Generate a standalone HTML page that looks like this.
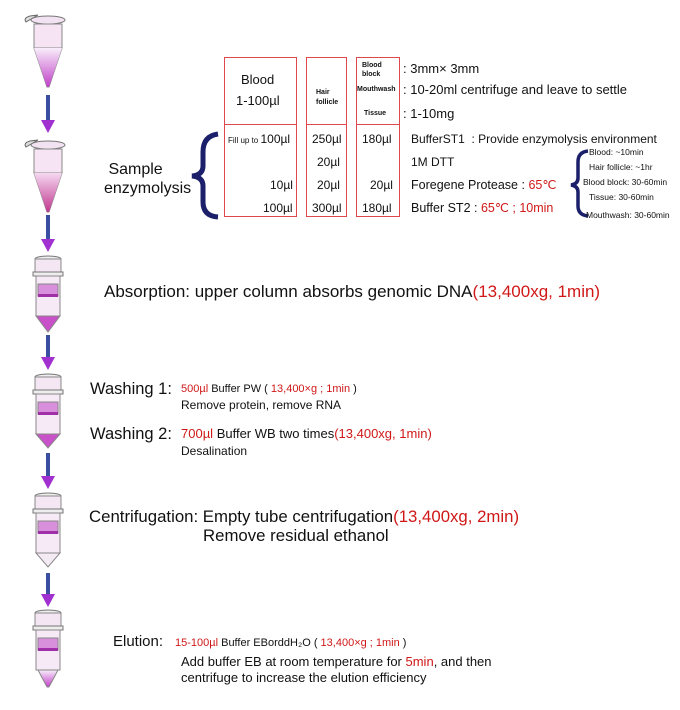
<!DOCTYPE html>
<html><head><meta charset="utf-8"><style>
body{margin:0;width:680px;height:710px;background:#fff;position:relative;font-family:"Liberation Sans",Arial,sans-serif;color:#111;overflow:hidden}
.t{position:absolute;white-space:nowrap}
.r{color:#d01818}
.box{position:absolute;border:1.5px solid #e0474c;box-sizing:border-box}
svg{position:absolute;left:0;top:0}
</style></head><body>
<svg width="680" height="710">
<defs>
<linearGradient id="g1" x1="0" y1="0" x2="0" y2="1"><stop offset="0" stop-color="#f8eefa"/><stop offset="1" stop-color="#c040c8"/></linearGradient>
<linearGradient id="g2" x1="0" y1="0" x2="0" y2="1"><stop offset="0" stop-color="#f5d8f0"/><stop offset="1" stop-color="#c03890"/></linearGradient>
<g id="tube">
<path d="M-22,-35 q-3,-4 4,-6 l8,-1 z" fill="#ddd" stroke="#666"/>
<ellipse cx="0" cy="-37" rx="17" ry="4" fill="#f3e2f2" stroke="#777"/>
<rect x="-14" y="-33" width="28" height="24" fill="#f6e4f4" stroke="#888"/>
<path d="M-14,-9 L14,-9 L1,30 L-1,30 Z" fill="#f7e6f6" stroke="#888"/>
</g>
<g id="col">
<ellipse cx="0" cy="-33" rx="13" ry="3" fill="#eee" stroke="#777"/>
<rect x="-13" y="-33" width="26" height="14" fill="#f4e6f3" stroke="#888"/>
<rect x="-15" y="-20" width="30" height="4" fill="#eee" stroke="#777"/>
<rect x="-12" y="-16" width="24" height="40" fill="#f6eaf6" stroke="#888"/>
<rect x="-10" y="-8" width="20" height="12" fill="#d990dc" stroke="#888"/>
<rect x="-10" y="2" width="20" height="3" fill="#a030a8"/>
</g>
</defs>
<g stroke-width="4">
<line x1="48" y1="95" x2="48" y2="122" stroke="#3a4fa0"/><path d="M41,120 L55,120 L48,133 Z" fill="#a030d0"/>
<line x1="48" y1="215" x2="48" y2="240" stroke="#3a4fa0"/><path d="M41,239 L55,239 L48,252 Z" fill="#a030d0"/>
<line x1="48" y1="335" x2="48" y2="358" stroke="#3a4fa0"/><path d="M41,357 L55,357 L48,370 Z" fill="#a030d0"/>
<line x1="48" y1="453" x2="48" y2="477" stroke="#3a4fa0"/><path d="M41,476 L55,476 L48,489 Z" fill="#a030d0"/>
<line x1="48" y1="573" x2="48" y2="595" stroke="#3a4fa0"/><path d="M41,594 L55,594 L48,607 Z" fill="#a030d0"/>
</g>
<use href="#tube" x="48" y="57"/>
<path d="M34,48 L62,48 L49,87 L47,87 Z" fill="url(#g1)"/>
<use href="#tube" x="48" y="182"/>
<path d="M34,173 L62,173 L49,212 L47,212 Z" fill="url(#g2)"/>
<g transform="translate(48,292)"><use href="#col"/><path d="M-12,24 L12,24 L0,40 Z" fill="#c850c8" stroke="#888"/></g>
<g transform="translate(48,410)"><use href="#col"/><path d="M-12,24 L12,24 L0,38 Z" fill="#c850c8" stroke="#888"/></g>
<g transform="translate(48,529)"><use href="#col"/><path d="M-12,24 L12,24 L0,38 Z" fill="#f4eaf4" stroke="#888"/></g>
<g transform="translate(48,646)"><use href="#col"/><path d="M-10,24 L10,24 L1,41 L-1,41 Z" fill="url(#g1)" stroke="#888"/></g>
<path d="M218,134 Q203,136 203,152 L203,166 Q203,175 192,176 Q203,177 203,186 L203,202 Q203,216 218,217" fill="none" stroke="#1c1f6a" stroke-width="5"/>
<path d="M588,151 Q578,152 578,162 L578,178 Q578,184 571,185 Q578,186 578,192 L578,206 Q578,215 588,216" fill="none" stroke="#1c1f6a" stroke-width="3.5"/>
</svg>

<div class="box" style="left:224px;top:57px;width:73px;height:160px"></div>
<div style="position:absolute;left:224px;top:124px;width:73px;border-top:1.5px solid #e0474c"></div>
<div class="box" style="left:306px;top:57px;width:41px;height:160px"></div>
<div style="position:absolute;left:306px;top:124px;width:41px;border-top:1.5px solid #e0474c"></div>
<div class="box" style="left:356px;top:57px;width:44px;height:160px"></div>
<div style="position:absolute;left:356px;top:124px;width:44px;border-top:1.5px solid #e0474c"></div>

<div class="t" style="left:241px;top:72px;font-size:13px">Blood</div>
<div class="t" style="left:236px;top:93px;font-size:13px">1-100µl</div>
<div class="t" style="left:316px;top:88px;font-size:7px;font-weight:bold;line-height:10px">Hair<br>follicle</div>
<div class="t" style="left:362px;top:61px;font-size:7px;font-weight:bold;line-height:9px">Blood<br>block</div>
<div class="t" style="left:357px;top:86px;font-size:7px;font-weight:bold">Mouthwash</div>
<div class="t" style="left:364px;top:110px;font-size:7px;font-weight:bold">Tissue</div>

<div class="t" style="left:403px;top:61px;font-size:13px">: 3mm× 3mm</div>
<div class="t" style="left:403px;top:82px;font-size:13px">: 10-20ml centrifuge and leave to settle</div>
<div class="t" style="left:403px;top:106px;font-size:13px">: 1-10mg</div>

<div class="t" style="left:228px;top:132px;font-size:12px"><span style="font-size:8px">Fill up to </span>100µl</div>
<div class="t" style="left:312px;top:132px;font-size:12px">250µl</div>
<div class="t" style="left:362px;top:132px;font-size:12px">180µl</div>
<div class="t" style="left:411px;top:132px;font-size:12px">BufferST1 &nbsp;: Provide enzymolysis environment</div>
<div class="t" style="left:317px;top:155px;font-size:12px">20µl</div>
<div class="t" style="left:411px;top:155px;font-size:12px">1M DTT</div>
<div class="t" style="left:270px;top:178px;font-size:12px">10µl</div>
<div class="t" style="left:317px;top:178px;font-size:12px">20µl</div>
<div class="t" style="left:370px;top:178px;font-size:12px">20µl</div>
<div class="t" style="left:411px;top:177px;font-size:12.5px">Foregene Protease : <span class="r">65℃</span></div>
<div class="t" style="left:263px;top:201px;font-size:12px">100µl</div>
<div class="t" style="left:312px;top:201px;font-size:12px">300µl</div>
<div class="t" style="left:362px;top:201px;font-size:12px">180µl</div>
<div class="t" style="left:411px;top:200px;font-size:12.5px">Buffer ST2 : <span class="r">65℃ ; 10min</span></div>

<div class="t" style="left:589px;top:147px;font-size:8.5px">Blood: ~10min</div>
<div class="t" style="left:589px;top:162px;font-size:8.5px">Hair follicle: ~1hr</div>
<div class="t" style="left:583px;top:177px;font-size:8.5px">Blood block: 30-60min</div>
<div class="t" style="left:589px;top:192px;font-size:8.5px">Tissue: 30-60min</div>
<div class="t" style="left:586px;top:210px;font-size:8.5px">Mouthwash: 30-60min</div>

<div class="t" style="left:104px;top:160px;font-size:16px;line-height:19px">&nbsp;Sample<br>enzymolysis</div>

<div class="t" style="left:104px;top:282px;font-size:17px">Absorption: upper column absorbs genomic DNA<span class="r">(13,400xg, 1min)</span></div>

<div class="t" style="left:90px;top:380px;font-size:16.5px">Washing 1:</div>
<div class="t" style="left:181px;top:383px;font-size:11px"><span class="r">500µl</span> Buffer PW ( <span class="r">13,400×g ; 1min</span> )</div>
<div class="t" style="left:181px;top:398px;font-size:12px">Remove protein, remove RNA</div>
<div class="t" style="left:90px;top:425px;font-size:16.5px">Washing 2:</div>
<div class="t" style="left:181px;top:426px;font-size:13px"><span class="r">700µl</span> Buffer WB two times<span class="r">(13,400xg, 1min)</span></div>
<div class="t" style="left:181px;top:444px;font-size:12px">Desalination</div>

<div class="t" style="left:89px;top:507px;font-size:16.8px">Centrifugation: Empty tube centrifugation<span class="r">(13,400xg, 2min)</span></div>
<div class="t" style="left:203px;top:526px;font-size:16.8px">Remove residual ethanol</div>

<div class="t" style="left:113px;top:633px;font-size:15px">Elution:</div>
<div class="t" style="left:175px;top:637px;font-size:11px"><span class="r">15-100µl</span> Buffer EBorddH₂O ( <span class="r">13,400×g ; 1min</span> )</div>
<div class="t" style="left:181px;top:654px;font-size:13px;line-height:16px">Add buffer EB at room temperature for <span class="r">5min</span>, and then<br>centrifuge to increase the elution efficiency</div>
</body></html>
